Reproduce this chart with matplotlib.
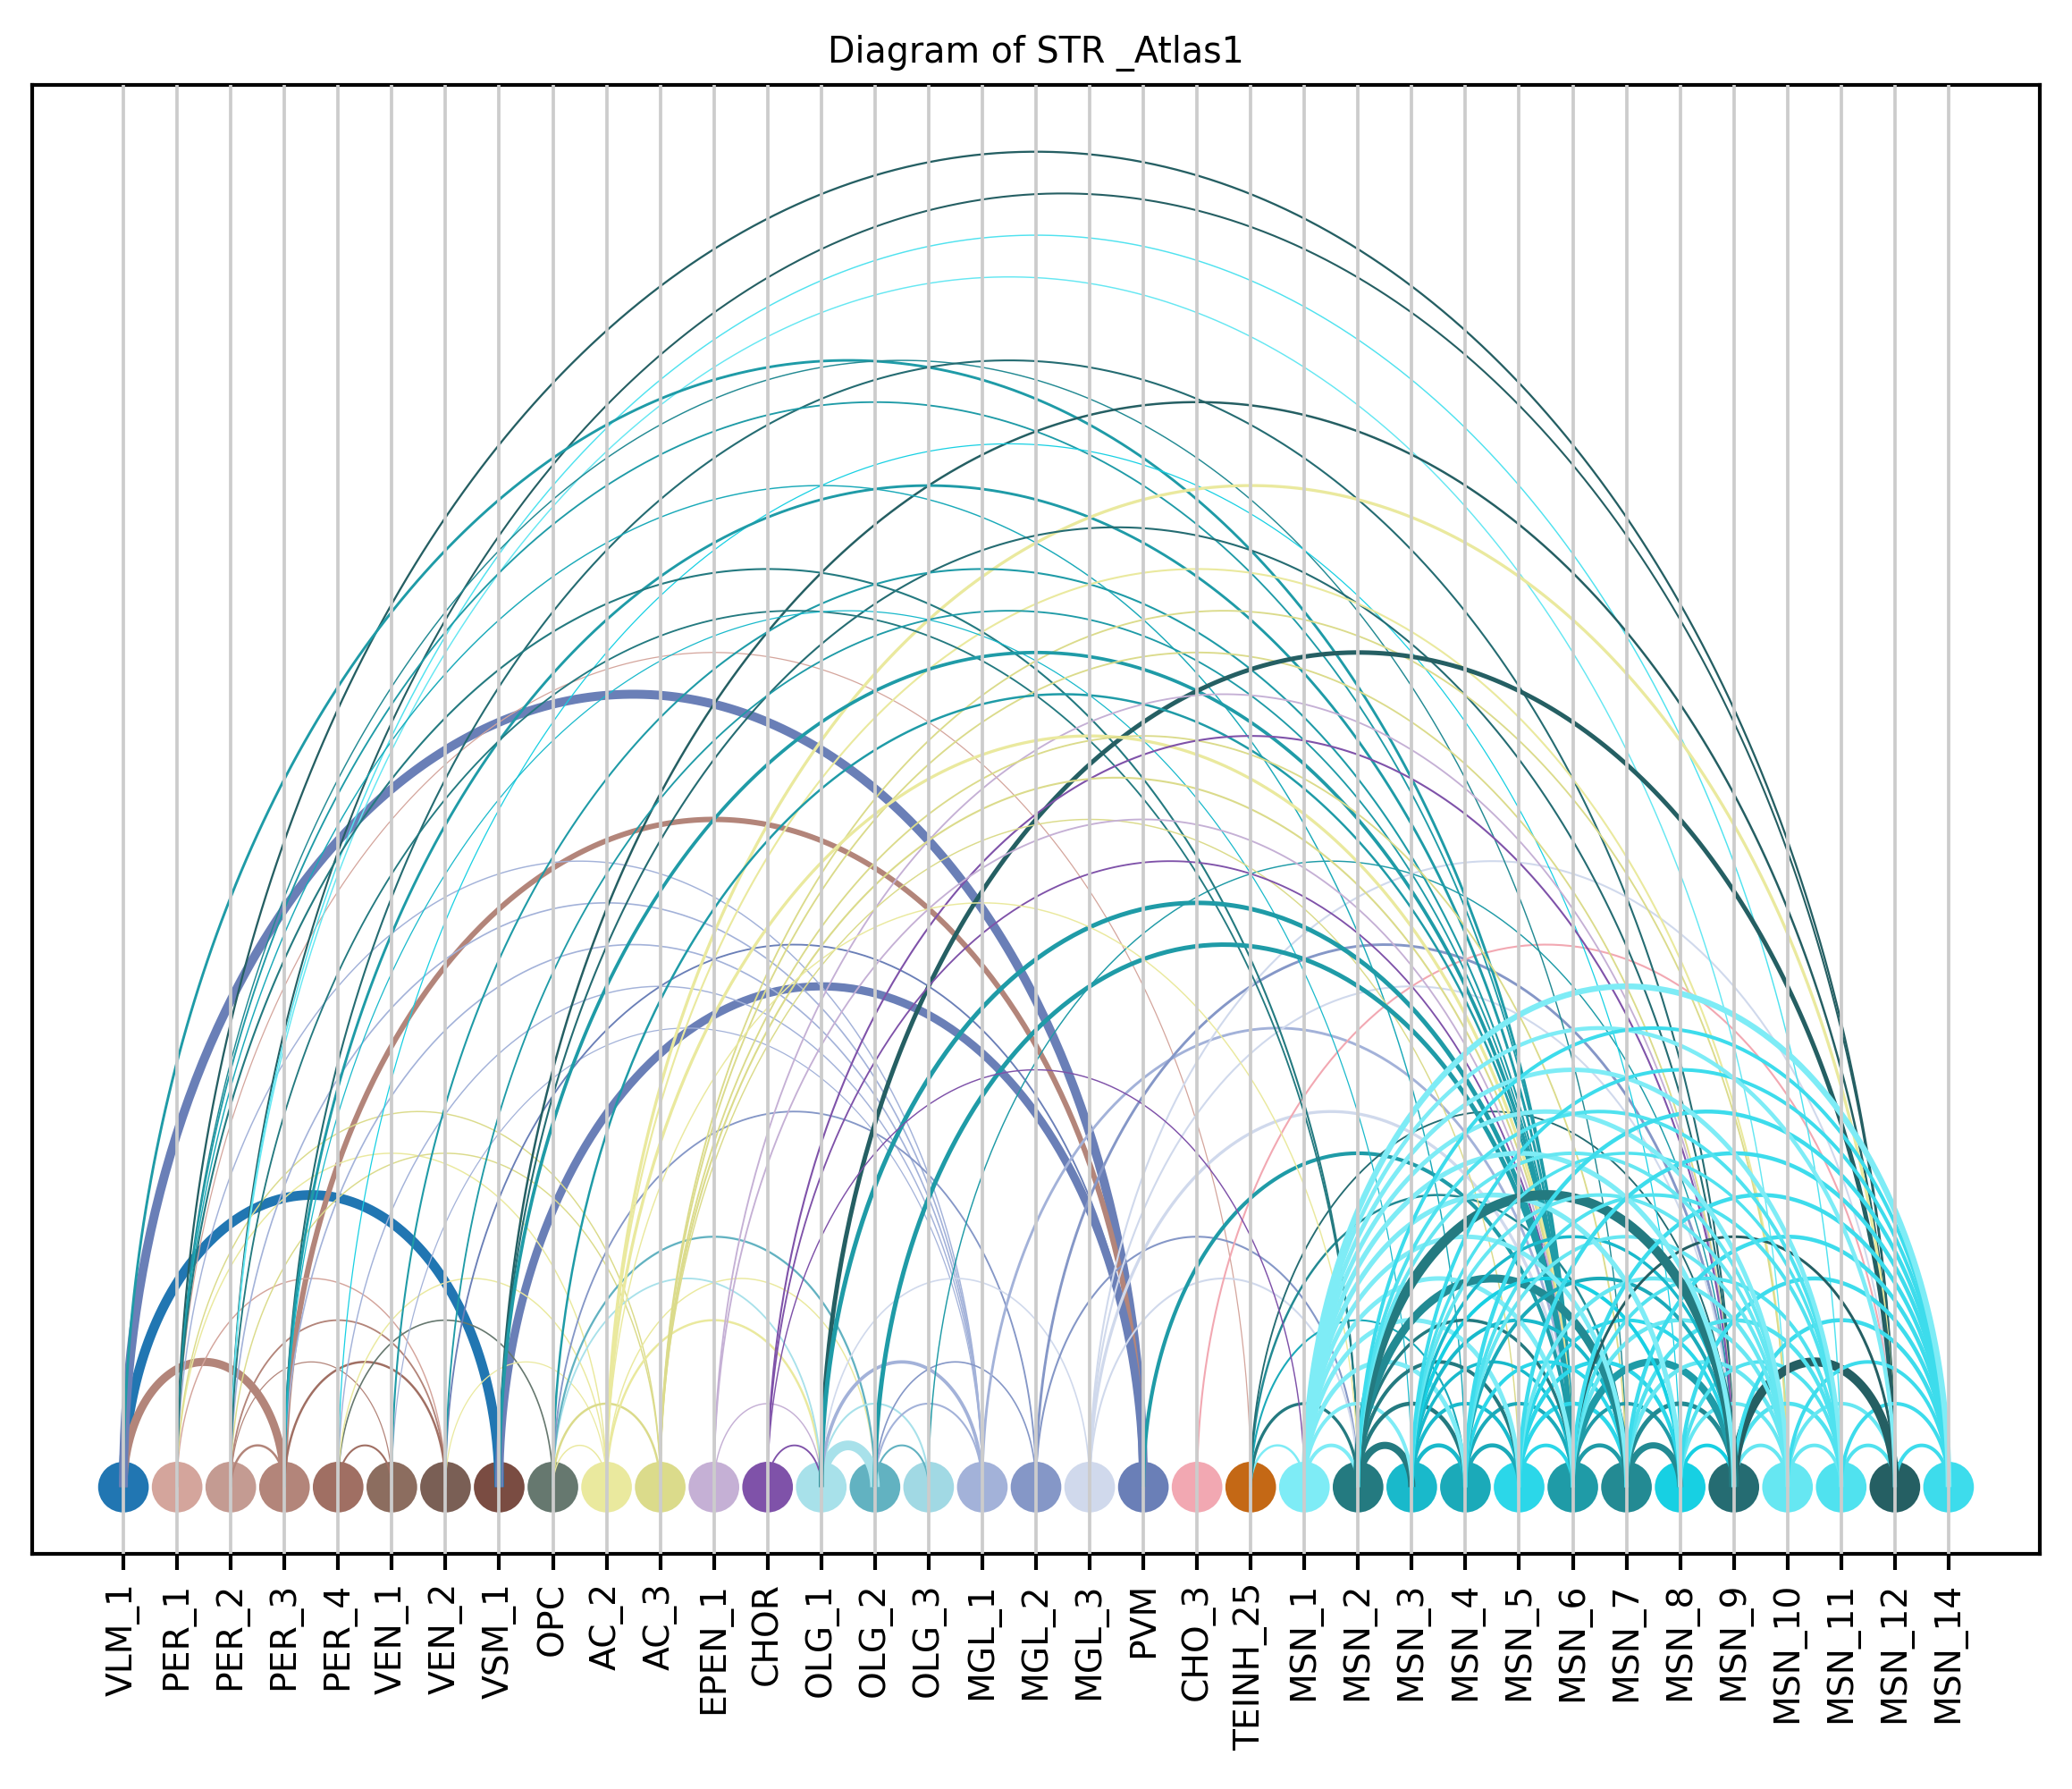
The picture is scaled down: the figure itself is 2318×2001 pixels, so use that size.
import matplotlib
matplotlib.use("Agg")
import matplotlib.pyplot as plt
import numpy as np

NODES = [
    "VLM_1", "PER_1", "PER_2", "PER_3", "PER_4", "VEN_1", "VEN_2", "VSM_1",
    "OPC", "AC_2", "AC_3", "EPEN_1", "CHOR", "OLG_1", "OLG_2", "OLG_3",
    "MGL_1", "MGL_2", "MGL_3", "PVM", "CHO_3", "TEINH_25", "MSN_1", "MSN_2",
    "MSN_3", "MSN_4", "MSN_5", "MSN_6", "MSN_7", "MSN_8", "MSN_9", "MSN_10",
    "MSN_11", "MSN_12", "MSN_14",
]
NODE_COLORS = [
    "#2176b2", "#d4a59c", "#c49b92", "#b3857a", "#a06f63", "#8c6d5f", "#7a5f55", "#7a4c42",
    "#66786f", "#eae99e", "#dbdb8b", "#c5b0d5", "#7f52a9", "#a8e1ea", "#62b2c1", "#a1d9e4",
    "#a3b2d9", "#8597c7", "#d0d9ec", "#6a7fb7", "#f2a8b2", "#c46815", "#7eecf6", "#247a80",
    "#19b9cb", "#1baab9", "#2bd7e9", "#1f9ba7", "#238a93", "#17d0e3", "#256c72", "#66e7f2",
    "#50e2ef", "#255f63", "#3ddcec",
]

# (source, target, node whose colour the link takes, link weight)
EDGES_LEFT = [
    (0, 7, 0, 2.6), (0, 3, 3, 2.2), (0, 19, 19, 2.4), (3, 19, 3, 1.45), (7, 19, 19, 2.2),
    (1, 6, 1, 0.35), (2, 6, 3, 0.45), (2, 5, 3, 0.3), (3, 6, 4, 0.6), (2, 3, 3, 0.6),
    (4, 5, 4, 0.5), (4, 8, 8, 0.4), (1, 9, 9, 0.35), (1, 10, 10, 0.35), (2, 10, 10, 0.35),
    (4, 9, 9, 0.35), (6, 9, 9, 0.3), (8, 9, 9, 0.35), (8, 10, 10, 0.6), (9, 13, 9, 0.6),
    (9, 14, 9, 0.35), (8, 13, 13, 0.45), (8, 14, 14, 0.55),
    (1, 16, 16, 0.35), (2, 16, 16, 0.4), (3, 16, 16, 0.4), (4, 16, 16, 0.35), (5, 16, 16, 0.3),
    (6, 19, 19, 0.45), (8, 17, 17, 0.45), (1, 21, 1, 0.3),
]
EDGES_MID = [
    (11, 13, 11, 0.35), (12, 13, 12, 0.45), (13, 14, 13, 2.6), (14, 15, 14, 0.5),
    (13, 15, 13, 0.5), (13, 16, 16, 0.9), (14, 16, 16, 0.5), (14, 17, 17, 0.4),
    (13, 18, 18, 0.4), (16, 27, 16, 0.7), (17, 30, 17, 0.7), (17, 23, 17, 0.5),
    (18, 23, 18, 0.5), (18, 27, 18, 0.8), (18, 30, 18, 0.5), (18, 33, 18, 0.5),
    (20, 33, 20, 0.5), (19, 27, 27, 1.0), (15, 30, 27, 0.35),
    (21, 22, 22, 0.6), (21, 23, 23, 0.8), (21, 25, 25, 0.5), (21, 28, 28, 0.6), (21, 30, 30, 0.45),
]
EDGES_LONG = [
    (1, 33, 33, 0.55), (2, 33, 33, 0.5), (2, 32, 32, 0.35), (2, 31, 31, 0.35),
    (0, 27, 27, 0.7), (1, 28, 28, 0.35), (3, 30, 30, 0.5), (1, 27, 27, 0.45),
    (7, 33, 33, 0.6), (4, 29, 29, 0.3), (1, 25, 25, 0.35), (3, 27, 27, 0.7),
    (9, 33, 9, 0.8), (7, 30, 30, 0.5), (1, 23, 23, 0.5), (5, 27, 27, 0.5),
    (9, 31, 9, 0.5), (2, 23, 23, 0.45), (3, 24, 24, 0.3), (6, 27, 27, 0.45),
    (10, 31, 10, 0.45), (7, 27, 27, 0.9), (10, 30, 10, 0.45), (13, 33, 33, 1.2),
    (8, 27, 27, 0.6), (11, 30, 11, 0.45), (9, 27, 9, 0.8), (10, 28, 10, 0.45),
    (12, 30, 12, 0.5), (10, 27, 10, 0.5), (10, 26, 10, 0.35), (11, 27, 11, 0.45),
    (12, 27, 12, 0.45), (13, 27, 27, 1.2), (14, 27, 27, 1.2), (9, 23, 9, 0.35),
    (12, 22, 12, 0.35),
]
EDGES_MSN = [
    (22, 23, 22, 0.8), (23, 24, 23, 1.6), (24, 25, 24, 0.9), (25, 26, 25, 0.9),
    (26, 27, 26, 0.8), (27, 28, 27, 0.9), (28, 29, 28, 1.4), (29, 30, 29, 0.8),
    (30, 31, 31, 0.8), (31, 32, 31, 0.8), (32, 33, 32, 0.8), (33, 34, 34, 0.8),
    (22, 24, 22, 0.8), (23, 25, 23, 0.9), (24, 26, 24, 0.8), (25, 27, 25, 0.8),
    (26, 28, 26, 0.9), (27, 29, 27, 0.8), (28, 30, 28, 1.0), (29, 31, 31, 0.8),
    (30, 32, 32, 0.9), (31, 33, 31, 0.8), (32, 34, 34, 0.8),
    (22, 25, 22, 1.0), (23, 26, 23, 0.8), (24, 27, 24, 0.7), (25, 28, 26, 0.8),
    (26, 29, 26, 0.9), (27, 30, 27, 1.6), (28, 31, 31, 0.9), (29, 32, 32, 0.8),
    (30, 33, 33, 2.0), (31, 34, 34, 0.8),
    (22, 26, 22, 1.0), (23, 27, 23, 0.7), (24, 28, 24, 0.8), (26, 30, 26, 0.8),
    (27, 31, 31, 0.9), (28, 32, 32, 0.9), (30, 34, 34, 0.9),
    (22, 27, 22, 1.0), (23, 28, 28, 1.8), (24, 29, 29, 0.8), (25, 30, 25, 0.8),
    (26, 31, 31, 0.9), (27, 32, 32, 0.8), (29, 34, 34, 0.9),
    (22, 28, 22, 1.0), (24, 30, 24, 0.7), (25, 31, 31, 0.8), (27, 33, 33, 0.6),
    (28, 34, 34, 0.9),
    (22, 29, 22, 1.1), (23, 30, 23, 2.2), (24, 31, 31, 0.8), (25, 32, 32, 0.8),
    (27, 34, 34, 0.9),
    (22, 30, 22, 1.1), (23, 31, 31, 0.8), (24, 32, 32, 0.7), (26, 34, 34, 0.9),
    (22, 31, 22, 1.0), (23, 32, 32, 0.8), (25, 34, 34, 0.9),
    (22, 32, 22, 1.0), (24, 34, 34, 0.8),
    (22, 33, 22, 0.9), (23, 34, 34, 0.8),
    (22, 34, 22, 1.3),
]


def main() -> None:
    fig = plt.figure(figsize=(2318 / 300, 2001 / 300))
    ax = fig.add_axes([0.01553, 0.13143, 0.96894, 0.82109])

    xs = np.arange(len(NODES))
    ax.scatter(xs, np.zeros(len(NODES)), s=185, c=NODE_COLORS, linewidths=0, zorder=1)

    theta = np.linspace(0, np.pi, 240)
    for group in (EDGES_LEFT, EDGES_MID, EDGES_LONG, EDGES_MSN):
        # the MSN block reads heavier in the original
        scale = 1.2 if group is EDGES_MSN else 1.0
        for a, b, ci, w in group:
            centre = (a + b) / 2
            r = abs(b - a) / 2
            ax.plot(centre + r * np.cos(theta), r * np.sin(theta),
                    color=NODE_COLORS[ci], lw=w * scale, solid_capstyle="butt", zorder=2)

    ax.set_xlim(-1.7, len(NODES) - 1 + 1.7)
    ax.set_ylim(-0.8, 16.8)
    ax.set_xticks(xs)
    ax.set_xticklabels(NODES, rotation=90, fontsize=9.4)
    ax.set_yticks([])
    ax.tick_params(axis="x", length=4.2, width=1.0)
    for spine in ax.spines.values():
        spine.set_linewidth(1.0)
    ax.set_axisbelow(False)
    ax.grid(axis="x", color="#cccccc", lw=0.9)
    ax.set_title("Diagram of STR _Atlas1", fontsize=9.5)

    fig.savefig("out.png", dpi=300)
    plt.close(fig)


if __name__ == "__main__":
    main()
